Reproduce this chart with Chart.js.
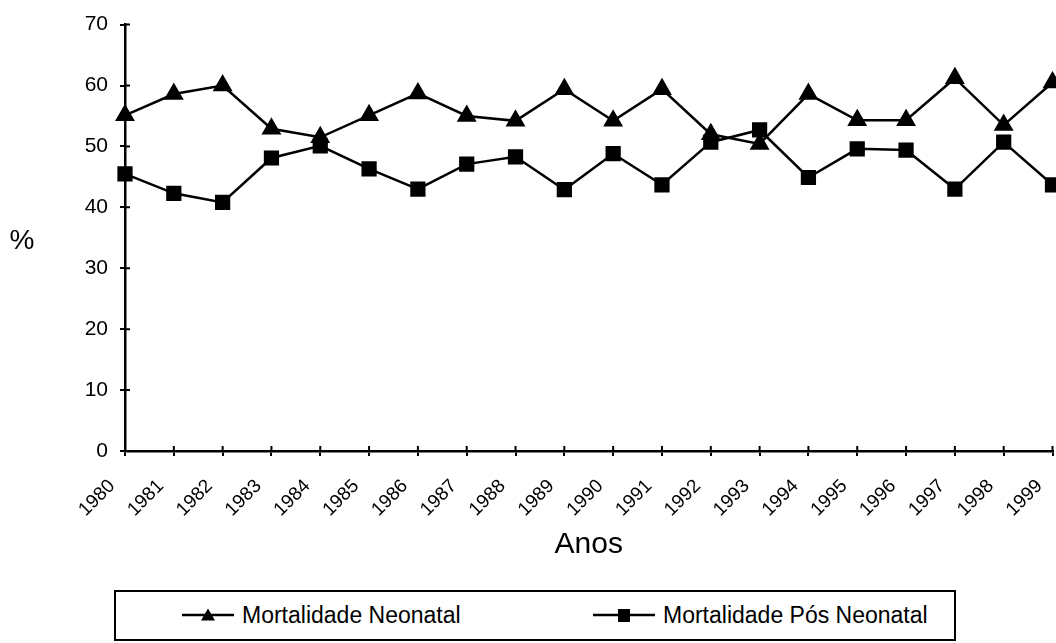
<!DOCTYPE html>
<html>
<head>
<meta charset="utf-8">
<script src="https://cdn.jsdelivr.net/npm/chart.js@4.4.1/dist/chart.umd.min.js"></script>
<style>
  body { margin: 0; background: #fff; font-family: "Liberation Sans", Arial, sans-serif; }
  #wrap { position: relative; width: 1056px; height: 643px; overflow: hidden; }
  #box { position: absolute; width: 1064px; height: 570px; left: 0; top: 0; }
  #legend {
    position: absolute; left: 114px; top: 590px; width: 842px; height: 51px;
    border: 2px solid #000; box-sizing: border-box;
  }
  .item { position: absolute; top: 11px; display: flex; align-items: center; font-size: 23px; white-space: nowrap; line-height: 24px; }
  .item canvas { margin-right: 8px; }
</style>
</head>
<body>
<div id="wrap">
  <div id="box"><canvas id="chart"></canvas></div>
  <div id="legend">
    <div class="item" style="left:66px"><canvas id="lg1" width="52" height="16"></canvas>Mortalidade Neonatal</div>
    <div class="item" style="left:477px"><canvas id="lg2" width="62" height="16"></canvas>Mortalidade Pós Neonatal</div>
  </div>
</div>
<script>
const anos = ['1980', '1981', '1982', '1983', '1984', '1985', '1986', '1987', '1988', '1989',
    '1990', '1991', '1992', '1993', '1994', '1995', '1996', '1997', '1998', '1999'];

const neonatal = [55.1, 58.6, 60.0, 52.9, 51.5, 55.1, 58.7, 55.0, 54.2, 59.4,
    54.2, 59.4, 52.0, 50.4, 58.6, 54.3, 54.3, 61.2, 53.5, 60.5];

const posNeonatal = [45.5, 42.3, 40.8, 48.1, 50.1, 46.3, 43.0, 47.1, 48.3, 42.9,
    48.8, 43.7, 50.7, 52.7, 44.9, 49.6, 49.4, 43.0, 50.7, 43.7];

const yTicks = [0, 10, 20, 30, 40, 50, 60, 70];

const font = "Liberation Sans, Arial, sans-serif";

// short ticks on the inner side of both axes, plus the "%" label
const extras = {
    id: 'extras',
    afterDraw(c) {
        const ctx = c.ctx, a = c.chartArea, x = c.scales.x, y = c.scales.y;
        ctx.save();
        ctx.strokeStyle = '#000';
        ctx.lineWidth = 2;
        ctx.beginPath();
        yTicks.forEach(v => {
            const py = y.getPixelForValue(v);
            ctx.moveTo(a.left, py);
            ctx.lineTo(a.left + 5, py);
        });
        anos.forEach((l, i) => {
            const px = x.getPixelForValue(i);
            ctx.moveTo(px, a.bottom);
            ctx.lineTo(px, a.bottom - 5);
        });
        ctx.stroke();
        ctx.fillStyle = '#000';
        ctx.font = '28px ' + font;
        ctx.textAlign = 'center';
        ctx.textBaseline = 'middle';
        ctx.fillText('%', 22, 241);
        ctx.restore();
    }
};

new Chart(document.querySelector('#chart').getContext('2d'), {
    type: 'line',
    data: {
        labels: anos,
        datasets: [
            {
                label: 'Mortalidade Neonatal',
                data: neonatal,
                borderColor: '#000',
                backgroundColor: '#000',
                borderWidth: 2.5,
                pointStyle: 'triangle',
                pointRadius: 9,
                tension: 0,
                clip: false
            },
            {
                label: 'Mortalidade Pós Neonatal',
                data: posNeonatal,
                borderColor: '#000',
                backgroundColor: '#000',
                borderWidth: 2.5,
                pointStyle: 'rect',
                pointRadius: 9,
                tension: 0,
                clip: false
            }
        ]
    },
    options: {
        responsive: true,
        maintainAspectRatio: false,
        animation: false,
        layout: { padding: { top: 22, right: 7, left: 0, bottom: 0 } },
        plugins: { legend: { display: false }, tooltip: { enabled: false } },
        scales: {
            x: {
                offset: false,
                grid: { drawOnChartArea: false, color: '#000', lineWidth: 2, tickLength: 5 },
                border: { color: '#000', width: 2.5 },
                ticks: {
                    autoSkip: false, minRotation: 45, maxRotation: 45,
                    color: '#000', font: { family: font, size: 19 }, padding: 19, labelOffset: -13
                },
                title: {
                    display: true, text: 'Anos', color: '#000',
                    font: { family: font, size: 30 }, padding: { top: 0, bottom: 7 }
                },
                afterFit(s) {
                    s.height = 119;
                    s.paddingLeft = 0;
                    s.paddingRight = 0;
                }
            },
            y: {
                min: 0, max: 70,
                grid: { drawOnChartArea: false, color: '#000', lineWidth: 2, tickLength: 5 },
                border: { color: '#000', width: 2.5 },
                ticks: {
                    stepSize: 10, color: '#000', font: { family: font, size: 21 }, padding: 12
                },
                afterFit(s) { s.width = 125; }
            }
        }
    },
    plugins: [extras]
});

// legend icons: line with the series marker in the middle
function icon(id, shape) {
    const cv = document.getElementById(id);
    const ctx = cv.getContext('2d');
    const w = cv.width, m = w / 2;
    ctx.fillStyle = '#000';
    ctx.strokeStyle = '#000';
    ctx.lineWidth = 2.5;
    ctx.beginPath();
    ctx.moveTo(0, 8);
    ctx.lineTo(w, 8);
    ctx.stroke();
    ctx.beginPath();
    if (shape === 'triangle') {
        ctx.moveTo(m, 1.5);
        ctx.lineTo(m + 7, 13.5);
        ctx.lineTo(m - 7, 13.5);
        ctx.closePath();
    } else {
        ctx.rect(m - 6, 2, 12, 13);
    }
    ctx.fill();
}
icon('lg1', 'triangle');
icon('lg2', 'rect');
</script>
</body>
</html>
